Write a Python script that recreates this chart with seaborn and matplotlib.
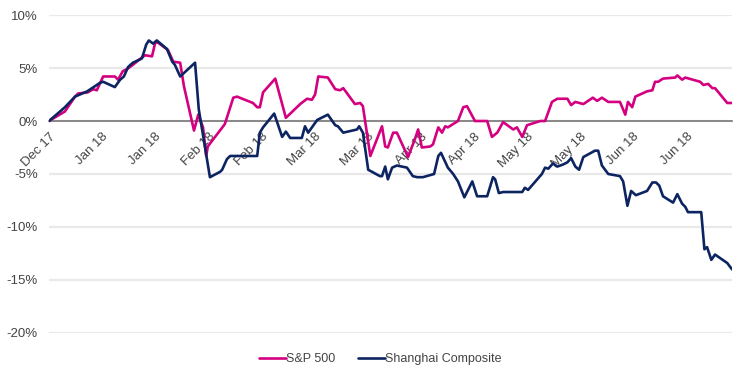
import pandas as pd
import numpy as np
import matplotlib
matplotlib.use("Agg")
import matplotlib.pyplot as plt
import seaborn as sns

# trading-day index (from 29 Dec 2017) and cumulative return in %
spx_day = [0, 3.0, 4.9, 5.5, 7.3, 8.3, 9.0, 10.2, 12.4, 13.0, 13.9, 14.7, 15.8, 17.5, 18.1, 19.4,
           20.0, 20.5, 22.4, 23.4, 24.7, 25.4, 27.3, 28.1, 29.0, 29.6, 29.9, 33.1, 34.7, 35.4,
           38.4, 39.2, 39.7, 40.3, 42.6, 44.6, 47.3, 48.6, 49.5, 50.1, 50.7, 52.5, 53.9, 54.8,
           55.4, 57.6, 58.6, 59.1, 60.5, 62.7, 63.3, 63.8, 64.8, 65.5, 67.6, 68.9, 69.5, 70.2,
           71.8, 72.3, 73.3, 74.0, 74.6, 75.1, 77.0, 78.0, 78.7, 80.2, 82.5, 83.4, 84.4, 85.5,
           87.4, 88.1, 89.1, 90.0, 92.5, 93.4, 94.7, 95.7, 97.6, 98.3, 99.1, 100.6, 102.4, 103.2,
           104.1, 105.3, 107.5, 108.5, 109.0, 109.8, 110.4, 112.6, 113.6, 114.1, 114.7, 115.6,
           117.9, 118.3, 119.2, 119.8, 122.6, 123.2, 124.1, 124.9, 125.4, 127.7, 128.6]
spx_ret = [0, 0.9, 2.3, 2.6, 2.7, 3.0, 2.9, 4.2, 4.2, 3.9, 4.7, 4.9, 5.3, 6.0, 6.2, 6.1,
           7.4, 7.4, 6.7, 5.6, 5.5, 3.3, -0.9, 0.6, -0.6, -3.3, -2.4, -0.3, 2.2, 2.3,
           1.7, 1.3, 1.3, 2.7, 4.0, 0.3, 1.6, 2.1, 2.0, 2.5, 4.2, 4.1, 3.0, 2.9,
           3.1, 1.6, 1.7, 1.4, -3.3, -0.5, -2.4, -2.5, -1.1, -1.1, -3.4, -1.7, -0.8, -2.5,
           -2.4, -2.2, -0.6, -1.1, -0.5, -0.6, 0.0, 1.3, 1.4, 0.0, 0.0, -1.5, -1.1, -0.1,
           -0.8, -0.6, -1.5, -0.4, 0.0, 0.0, 1.8, 2.1, 2.1, 1.5, 1.8, 1.6, 2.2, 1.9,
           2.2, 1.8, 1.8, 0.6, 1.8, 1.3, 2.3, 2.8, 2.9, 3.7, 3.7, 4.0,
           4.1, 4.3, 3.9, 4.1, 3.7, 3.4, 3.5, 3.1, 3.1, 1.7, 1.7]

shc_day = [0, 3.0, 4.9, 7.2, 9.6, 10.2, 12.4, 13.4, 14.1, 14.9, 15.8, 17.5, 18.3, 18.8, 19.6,
           20.3, 22.2, 23.2, 23.7, 24.7, 27.5, 28.2, 30.3, 32.2, 32.6, 33.5, 34.1, 39.2, 39.7,
           40.3, 42.4, 43.9, 44.6, 45.4, 47.6, 48.2, 48.8, 50.5, 52.5, 53.9, 54.4, 55.4, 58.0,
           58.4, 59.1, 60.1, 62.3, 62.7, 63.3, 63.8, 64.6, 65.5, 67.4, 68.5, 69.3, 70.4, 72.5,
           73.3, 73.8, 75.1, 76.1, 77.0, 78.2, 79.7, 80.6, 82.5, 83.6, 84.0, 84.7, 85.5, 89.1,
           89.6, 90.2, 92.8, 93.4, 94.0, 94.9, 95.7, 96.8, 97.6, 98.3, 99.1, 99.8, 100.6, 102.8,
           103.4, 104.1, 105.3, 107.5, 108.1, 108.9, 109.6, 110.5, 112.6, 113.6, 114.3, 114.9,
           115.6, 117.5, 118.3, 119.2, 119.8, 120.3, 122.8, 123.4, 123.9, 124.7, 125.4, 127.7,
           128.6]
shc_ret = [0, 1.3, 2.3, 2.8, 3.6, 3.7, 3.2, 3.9, 4.2, 5.1, 5.5, 5.9, 7.2, 7.6, 7.3,
           7.6, 6.8, 5.6, 5.3, 4.2, 5.5, 1.1, -5.3, -4.8, -4.6, -3.6, -3.3, -3.3, -1.1,
           -0.6, 0.7, -1.5, -1.0, -1.6, -1.6, -0.5, -1.1, 0.1, 0.6, -0.4, -0.5, -1.1, -0.8,
           -0.5, -1.1, -4.6, -5.2, -5.2, -4.3, -5.5, -4.4, -4.2, -4.4, -5.2, -5.3, -5.3, -5.0,
           -3.3, -3.0, -4.4, -5.0, -5.7, -7.2, -5.7, -7.1, -7.1, -5.3, -5.5, -6.8, -6.7, -6.7,
           -6.3, -6.5, -5.0, -4.4, -4.5, -4.0, -4.3, -4.1, -3.9, -3.5, -4.3, -4.6, -3.4, -2.8,
           -2.8, -4.2, -5.0, -5.2, -5.7, -8.0, -6.6, -7.0, -6.6, -5.8, -5.8, -6.1,
           -7.1, -7.7, -6.9, -7.8, -8.1, -8.6, -8.6, -12.1, -11.9, -13.1, -12.6, -13.4,
           -14.0]

series_names = ["S&P 500", "Shanghai Composite"]
tick_days = list(range(0, 130, 10))
tick_labels = ["Dec 17", "Jan 18", "Jan 18", "Feb 18", "Feb 18", "Mar 18", "Mar 18",
               "Apr 18", "Apr 18", "May 18", "May 18", "Jun 18", "Jun 18"]

df = pd.concat([
    pd.DataFrame({"day": spx_day, "ret": spx_ret, "index": series_names[0]}),
    pd.DataFrame({"day": shc_day, "ret": shc_ret, "index": series_names[1]}),
])

sns.set_style("white")
plt.rcParams["font.family"] = ["Liberation Sans", "DejaVu Sans"]

fig = plt.figure(figsize=(7.56, 3.79), dpi=100)
ax = fig.add_axes([0.0648, 0.1214, 0.9035, 0.8390])

sns.lineplot(data=df, x="day", y="ret", hue="index", sort=False, estimator=None,
             palette=["#d4007f", "#0c2461"], linewidth=1.9, ax=ax)

ax.set_ylim(-20, 10)
ax.set_xlim(0, 128.6)
ax.set_yticks([-20, -15, -10, -5, 0, 5, 10])
ax.set_yticklabels([f"{v}%" for v in [-20, -15, -10, -5, 0, 5, 10]])
ax.yaxis.grid(True, color="#e9e9e9", lw=1.6)
ax.set_axisbelow(True)

for s in ["top", "right", "left"]:
    ax.spines[s].set_visible(False)
ax.spines["bottom"].set_position(("data", 0))
ax.spines["bottom"].set_color("#777777")
ax.spines["bottom"].set_linewidth(1.2)
ax.spines["bottom"].set_zorder(1)

ax.set_xticks(tick_days)
ax.set_xticklabels(tick_labels, rotation=45, ha="right", rotation_mode="anchor")
ax.tick_params(axis="x", length=4, color="#777777", width=1, pad=3,
               labelsize=9.5, labelcolor="#444444")
ax.tick_params(axis="y", length=0, pad=8, labelsize=9.5, labelcolor="#444444")
ax.set_xlabel("")
ax.set_ylabel("")

ax.legend(loc="center", bbox_to_anchor=(0.485, -0.082), ncol=2, frameon=False,
          handlelength=2.2, handletextpad=0.0, columnspacing=1.8, fontsize=9,
          labelcolor="#444444")

fig.savefig("out.png", dpi=100)
